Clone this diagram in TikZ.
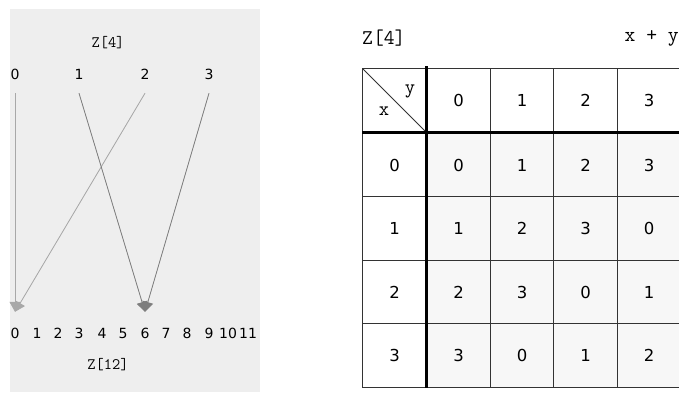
\documentclass[tikz,border=0pt]{standalone}
\usepackage{fontspec}
\setmainfont{DejaVu Sans}
\usetikzlibrary{arrows.meta}
\definecolor{panelbg}{HTML}{EEEEEE}
\definecolor{cellbg}{HTML}{F7F7F7}
\definecolor{lightln}{HTML}{A8A8A8}
\definecolor{darkln}{HTML}{7E7E7E}
\definecolor{gridln}{HTML}{333333}
\tikzset{
  title/.style={font=\ttfamily\fontsize{16}{16}\selectfont, text=black, inner sep=0pt},
  bigtitle/.style={font=\ttfamily\fontsize{21}{21}\selectfont, text=black, inner sep=0pt},
  topdig/.style={font=\fontsize{14}{14}\selectfont, inner sep=0pt, minimum height=38pt},
  botdig/.style={font=\fontsize{14}{14}\selectfont, inner sep=0pt, minimum height=42pt},
  lightarr/.style={draw=lightln, line width=0.8pt, -{Triangle[width=11pt,length=10pt]}, fill=lightln},
  darkarr/.style={draw=darkln, line width=0.8pt, -{Triangle[width=11pt,length=10pt]}, fill=darkln},
  cell/.style={draw=gridln, line width=0.8pt, minimum width=63.5pt, minimum height=63.5pt, inner sep=0pt, font=\fontsize{16.5}{16.5}\selectfont, anchor=center},
  datacell/.style={cell, fill=cellbg},
  headcell/.style={cell, fill=white},
  thick rule/.style={draw=black, line width=3pt}
}
\begin{document}
\begin{tikzpicture}[x=1pt,y=-1pt]
\useasboundingbox (0,0) rectangle (679,394);
\fill[white] (0,0) rectangle (679,394);
% left panel
\fill[panelbg] (10,9) rectangle (260,392);
\node[title] (zt) at (108,43) {Z[4]};
\node[topdig] (t0) at (15,74) {0};
\node[topdig] (t1) at (79,74) {1};
\node[topdig] (t2) at (145,74) {2};
\node[topdig] (t3) at (209,74) {3};
\foreach \i/\x in {0/15,1/37,2/58,3/79,4/102,5/123,6/145,7/166,8/187,9/209,10/228,11/248}
  \node[botdig] (b\i) at (\x,333) {\i};
\node[title] (zb) at (108,365) {Z[12]};
\draw[lightarr] (t0.south) -- (b0.north);
\draw[lightarr] (t2.south) -- (b0.north);
\draw[darkarr] (t1.south) -- (b6.north);
\draw[darkarr] (t3.south) -- (b6.north);
% right table
\node[bigtitle, anchor=west] (rz) at (362,38) {Z[4]};
\node[bigtitle, anchor=east] (rxy) at (679,38) {x + y};
\node[headcell] (corner) at (394.5,100.5) {};
\draw[gridln, line width=0.8pt] (corner.north west) -- (corner.south east);
\node[font=\ttfamily\fontsize{20}{20}\selectfont, inner sep=0pt] (cy) at (410,91) {y};
\node[font=\ttfamily\fontsize{20}{20}\selectfont, inner sep=0pt] (cx) at (384,111) {x};
\foreach \c/\x in {0/458.5,1/522,2/585.5,3/649}
  \node[headcell] (h\c) at (\x,100.5) {\c};
\foreach \r/\y in {0/165,1/228.5,2/292,3/355.5}{
  \node[headcell] (r\r) at (394.5,\y) {\r};
  \foreach \c/\x in {0/458.5,1/522,2/585.5,3/649}{
    \pgfmathtruncatemacro{\v}{mod(\r+\c,4)}
    \node[datacell] (d\r\c) at (\x,\y) {\v};
  }
}
\draw[thick rule] (corner.north east) ++(0,-2) -- (r3.south east);
\draw[thick rule] (corner.south west) -- (h3.south east);
\end{tikzpicture}
\end{document}
